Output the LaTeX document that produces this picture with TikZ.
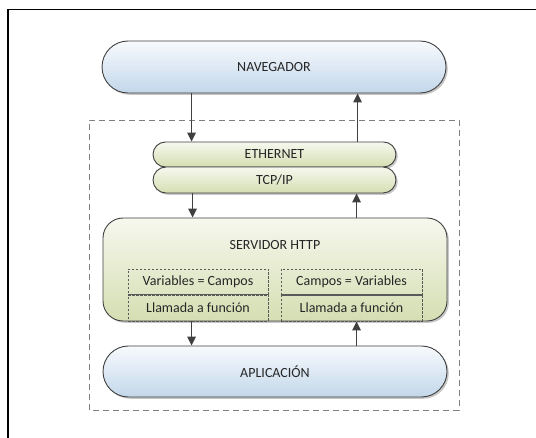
\documentclass[tikz,border=0pt]{standalone}
\usepackage{fontspec}
\setmainfont{Carlito}
\usetikzlibrary{shadows,arrows.meta}
\definecolor{edgegray}{HTML}{404040}
\definecolor{bluetop}{HTML}{F7FAFD}
\definecolor{bluebot}{HTML}{C3D7EA}
\definecolor{greentop}{HTML}{F6F8EE}
\definecolor{greenbot}{HTML}{D5DEB2}
\definecolor{dashgray}{HTML}{808080}
\definecolor{innergray}{HTML}{5A5A5A}
\tikzset{
  x=1pt, y=1pt,
  every node/.style={font=\fontsize{14}{16}\selectfont, text=black!85},
  shade/.style={drop shadow={shadow xshift=1.8pt, shadow yshift=-1.8pt, fill=black, opacity=0.22}},
  bluepill/.style={shade, draw=edgegray, line width=0.9pt, top color=bluetop, bottom color=bluebot,
     rectangle, inner sep=0pt, minimum width=#1},
  greenpill/.style={shade, draw=edgegray, line width=0.9pt, top color=greentop, bottom color=greenbot,
     rectangle, inner sep=0pt},
  arr/.style={draw=edgegray, line width=1.3pt, -{Triangle[length=9pt,width=8.5pt]}},
  innerbox/.style={draw=innergray, dashed, dash pattern=on 2.5pt off 1.5pt, line width=0.7pt,
     rectangle, inner sep=0pt, minimum width=140pt, minimum height=26pt},
}
\begin{document}
\begin{tikzpicture}
\useasboundingbox (0,0) rectangle (536,437);
% outer frame (top and left edges visible)
\draw[black, line width=1.6pt] (8,-2) -- (8,427.5) -- (540,427.5);
% dashed container
\draw[dashgray, line width=0.9pt, dash pattern=on 6pt off 4pt] (89,27) rectangle (459,317);

\node[bluepill=344pt, minimum height=52pt, rounded corners=26pt] (nav) at (274,370) {NAVEGADOR};
\node[greenpill, minimum width=243pt, minimum height=25pt, rounded corners=12.5pt] (eth) at (274.5,282.5) {ETHERNET};
\node[greenpill, minimum width=243pt, minimum height=26pt, rounded corners=13pt] (tcp) at (274.5,257) {TCP/IP};
\node[greenpill, minimum width=344pt, minimum height=103pt, rounded corners=20pt] (serv) at (275,167.5) {};
\node (servt) at ([yshift=-27pt]serv.north) {SERVIDOR HTTP};
\node[bluepill=344pt, minimum height=51pt, rounded corners=25.5pt] (apl) at (275,65.5) {APLICACIÓN};

% inner boxes
\node[innerbox] (v1) at (198,155) {Variables = Campos};
\node[innerbox] (l1) at (198,129) {Llamada a función};
\node[innerbox, minimum width=141pt] (v2) at (351.5,155) {Campos = Variables};
\node[innerbox, minimum width=141pt] (l2) at (351.5,129) {Llamada a función};
\draw[innergray, line width=0.8pt] (l1.north west) -- (l1.north east);
\draw[innergray, line width=0.8pt] (l2.north west) -- (l2.north east);

% arrows
\draw[arr] ([xshift=90pt]nav.south west) -- ([xshift=39pt]eth.north west);
\draw[arr] ([xshift=205pt]eth.north west) -- ([xshift=256pt]nav.south west);
\draw[arr] ([xshift=40pt]tcp.south west) -- ([xshift=90pt]serv.north west);
\draw[arr] ([xshift=254pt]serv.north west) -- ([xshift=204pt]tcp.south west);
\draw[arr] ([xshift=89pt]serv.south west) -- ([xshift=89pt]apl.north west);
\draw[arr] ([xshift=254pt]apl.north west) -- ([xshift=254pt]serv.south west);
\end{tikzpicture}
\end{document}
